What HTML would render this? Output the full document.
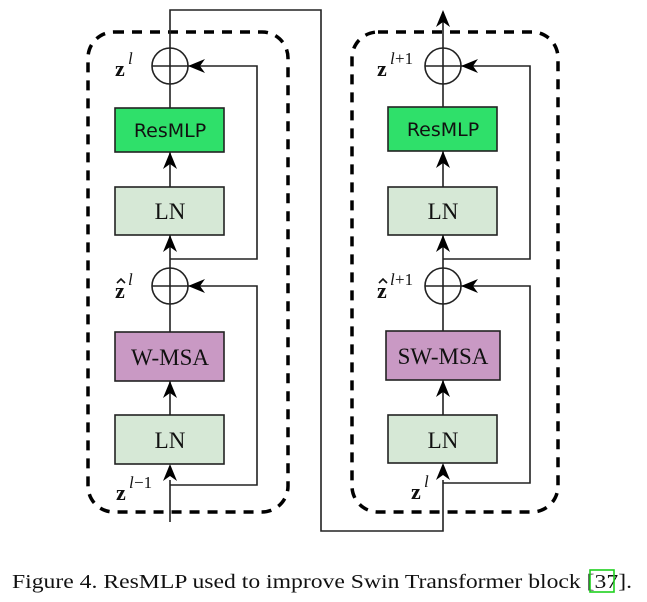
<!DOCTYPE html>
<html><head><meta charset="utf-8"><style>
html,body{margin:0;padding:0;background:#fff;}
svg{display:block;}
</style></head><body>
<svg width="647" height="602" viewBox="0 0 647 602" xmlns="http://www.w3.org/2000/svg">
<!-- dashed frames -->
<rect x="88" y="32" width="200" height="480" rx="26" fill="none" stroke="#000" stroke-width="3.5" stroke-dasharray="10,8"/>
<rect x="352" y="32" width="206" height="480" rx="26" fill="none" stroke="#000" stroke-width="3.5" stroke-dasharray="10,8"/>
<g stroke="#222" stroke-width="1.6" fill="none">
<polyline points="170,48 170,10 321,10 321,531 443,531 443,480"/>
<line x1="170" y1="522" x2="170" y2="480"/>
<line x1="170" y1="48" x2="170" y2="108"/>
<line x1="170" y1="152" x2="170" y2="187"/>
<line x1="170" y1="235" x2="170" y2="303"/>
<line x1="170" y1="269" x2="170" y2="332"/>
<line x1="170" y1="381" x2="170" y2="415"/>
<line x1="443" y1="48" x2="443" y2="12"/>
<line x1="443" y1="48" x2="443" y2="107"/>
<line x1="443" y1="151" x2="443" y2="187"/>
<line x1="443" y1="235" x2="443" y2="303"/>
<line x1="443" y1="269" x2="443" y2="331"/>
<line x1="443" y1="380" x2="443" y2="415"/>
<polyline points="170,259 257,259 257,66 188,66"/>
<polyline points="170,485 257,485 257,286 188,286"/>
<polyline points="443,259 530,259 530,66 461,66"/>
<polyline points="443,483 530,483 530,286 461,286"/>
<circle cx="170" cy="66" r="18" fill="#fff"/>
<line x1="152" y1="66" x2="188" y2="66"/><line x1="170" y1="48" x2="170" y2="84"/>
<circle cx="170" cy="286" r="18" fill="#fff"/>
<line x1="152" y1="286" x2="188" y2="286"/><line x1="170" y1="268" x2="170" y2="304"/>
<circle cx="443" cy="66" r="18" fill="#fff"/>
<line x1="425" y1="66" x2="461" y2="66"/><line x1="443" y1="48" x2="443" y2="84"/>
<circle cx="443" cy="286" r="18" fill="#fff"/>
<line x1="425" y1="286" x2="461" y2="286"/><line x1="443" y1="268" x2="443" y2="304"/>
</g>
<g fill="#000">
<path d="M170,152 l-7,17 l7,-5 l7,5 z"/>
<path d="M170,235 l-7,17 l7,-5 l7,5 z"/>
<path d="M170,381 l-7,17 l7,-5 l7,5 z"/>
<path d="M170,464 l-7,17 l7,-5 l7,5 z"/>
<path d="M443,151 l-7,17 l7,-5 l7,5 z"/>
<path d="M443,235 l-7,17 l7,-5 l7,5 z"/>
<path d="M443,380 l-7,17 l7,-5 l7,5 z"/>
<path d="M443,463 l-7,17 l7,-5 l7,5 z"/>
<path d="M443,10 l-7,17 l7,-5 l7,5 z"/>
<path d="M188,66 l17,-7 l-5,7 l5,7 z"/>
<path d="M188,286 l17,-7 l-5,7 l5,7 z"/>
<path d="M461,66 l17,-7 l-5,7 l5,7 z"/>
<path d="M461,286 l17,-7 l-5,7 l5,7 z"/>
</g>
<g stroke="#222" stroke-width="1.6">
<rect x="115" y="108" width="109" height="44" fill="#2fe06a"/>
<rect x="115" y="187" width="109" height="48" fill="#d6e8d6"/>
<rect x="115" y="332" width="109" height="49" fill="#c999c4"/>
<rect x="115" y="415" width="109" height="49" fill="#d6e8d6"/>
<rect x="388" y="107" width="109" height="44" fill="#2fe06a"/>
<rect x="388" y="187" width="109" height="48" fill="#d6e8d6"/>
<rect x="386" y="331" width="114" height="49" fill="#c999c4"/>
<rect x="388" y="415" width="109" height="48" fill="#d6e8d6"/>
</g>
<g font-family="'DejaVu Sans', sans-serif" font-size="19" fill="#111" text-anchor="middle">
<text x="170" y="137">ResMLP</text>
<text x="443" y="136">ResMLP</text>
</g>
<g font-family="'Liberation Serif', serif" font-size="23" fill="#111" text-anchor="middle">
<text x="170" y="219">LN</text>
<text x="170" y="365">W-MSA</text>
<text x="170" y="448">LN</text>
<text x="443" y="219">LN</text>
<text x="443" y="364">SW-MSA</text>
<text x="443" y="448">LN</text>
</g>
<g font-family="'Liberation Serif', serif" fill="#111">
<text x="115" y="76" font-size="22" font-weight="bold">z</text><text x="128" y="64" font-size="17" font-style="italic">l</text>
<text x="115" y="298" font-size="22" font-weight="bold">z</text><text x="128" y="285" font-size="17" font-style="italic">l</text>
<text x="116" y="500" font-size="22" font-weight="bold">z</text><text x="129" y="488" font-size="17" font-style="italic">l</text><text x="134" y="488" font-size="17">−1</text>
<text x="377" y="76" font-size="22" font-weight="bold">z</text><text x="390" y="64" font-size="17" font-style="italic">l</text><text x="395" y="64" font-size="17">+1</text>
<text x="377" y="298" font-size="22" font-weight="bold">z</text><text x="390" y="285" font-size="17" font-style="italic">l</text><text x="395" y="285" font-size="17">+1</text>
<text x="411" y="499" font-size="22" font-weight="bold">z</text><text x="424" y="487" font-size="17" font-style="italic">l</text>
</g>
<g stroke="#111" stroke-width="1.6" fill="none">
<polyline points="117,283 121,279 125,283"/>
<polyline points="379,283 383,279 387,283"/>
</g>
<text x="12" y="588" font-family="'Liberation Serif', serif" font-size="20" fill="#111" textLength="620" lengthAdjust="spacingAndGlyphs">Figure 4. ResMLP used to improve Swin Transformer block [37].</text>
<rect x="590" y="570" width="24" height="22" fill="none" stroke="#1ed01e" stroke-width="1.6"/>
</svg>
</body></html>
